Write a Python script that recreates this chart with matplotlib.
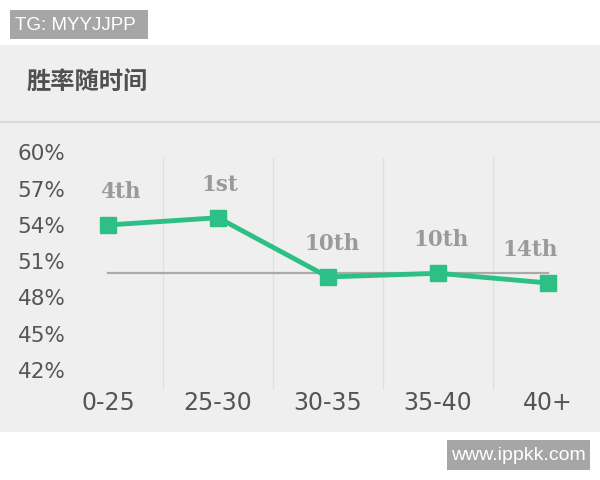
import matplotlib
matplotlib.use('agg')
import matplotlib.pyplot as plt
from matplotlib.patches import Rectangle

plt.rcParams['font.family'] = ['DejaVu Sans']

categories = ['0-25', '25-30', '30-35', '35-40', '40+']
win_rate = [54.0, 54.6, 49.7, 50.0, 49.2]
ranks = ['4th', '1st', '10th', '10th', '14th']
yticks = [42, 45, 48, 51, 54, 57, 60]
baseline = 50.0

# small nudges of the rank labels (points), as in the original layout
rank_dx = [9, 1, 3, 2, -13]

green = '#2ebf86'

fig = plt.figure(figsize=(6, 4.8), dpi=100)

# grey card behind the chart
fig.patches.append(Rectangle((0, 1 - 432/480), 1, (432-45)/480, transform=fig.transFigure,
                             facecolor='#efefef', edgecolor='none', zorder=0))
fig.patches.append(Rectangle((0, 1 - 123/480), 1, 2/480, transform=fig.transFigure,
                             facecolor='#d9d9d9', edgecolor='none', zorder=1))
fig.text(27/600, 1 - 83/480, '胜率随时间', family=['Noto Sans CJK SC', 'DejaVu Sans'],
         fontsize=17.5, fontweight='bold', color='#505050', va='center', ha='left')

# watermarks
fig.patches.append(Rectangle((10/600, 1 - 39/480), 138/600, 29/480, transform=fig.transFigure,
                             facecolor='#a6a6a6', edgecolor='none', zorder=2))
fig.text(15/600, 1 - 25/480, 'TG: MYYJJPP', family=['Liberation Sans'], fontsize=13.5,
         color='white', va='center', ha='left', zorder=3)
fig.patches.append(Rectangle((447/600, 1 - 470/480), 143/600, 30/480, transform=fig.transFigure,
                             facecolor='#a6a6a6', edgecolor='none', zorder=2))
fig.text(518/600, 1 - 455/480, 'www.ippkk.com', family=['Liberation Sans'], fontsize=14,
         color='white', va='center', ha='center', zorder=3)

ax = fig.add_axes([53/600, 1 - 390/480, 505/600, 245/480], zorder=5)
ax.set_facecolor('none')
x = list(range(len(categories)))
ax.set_xlim(-0.5, 4.09)
ax.set_ylim(40.34, 60.62)

for xv in [0.5, 1.5, 2.5, 3.5, 4.09]:
    ax.axvline(xv, ymin=0.0, ymax=0.947, color='#e0e0e0', lw=1, zorder=1)

ax.plot([0, 4], [baseline, baseline], color='#aaaaaa', lw=1.6, zorder=2)
ax.plot(x, win_rate, color=green, lw=3.5, marker='s', markersize=12, zorder=3)

for xi, yi, r, dx in zip(x, win_rate, ranks, rank_dx):
    ax.annotate(r, (xi, yi), xytext=(dx, 16), textcoords='offset points', ha='center',
                va='bottom', family='DejaVu Serif', fontweight='bold', fontsize=15.5,
                color='#9a9a9a')

ax.set_xticks(x)
ax.set_xticklabels(categories)
ax.set_yticks(yticks)
ax.set_yticklabels([f'{v}%' for v in yticks])
ax.tick_params(length=0, colors='#555555')
ax.tick_params(axis='x', pad=1, labelsize=17)
ax.tick_params(axis='y', pad=-9, labelsize=15.5)
for s in ax.spines.values():
    s.set_visible(False)

fig.savefig('out.png', dpi=100)
